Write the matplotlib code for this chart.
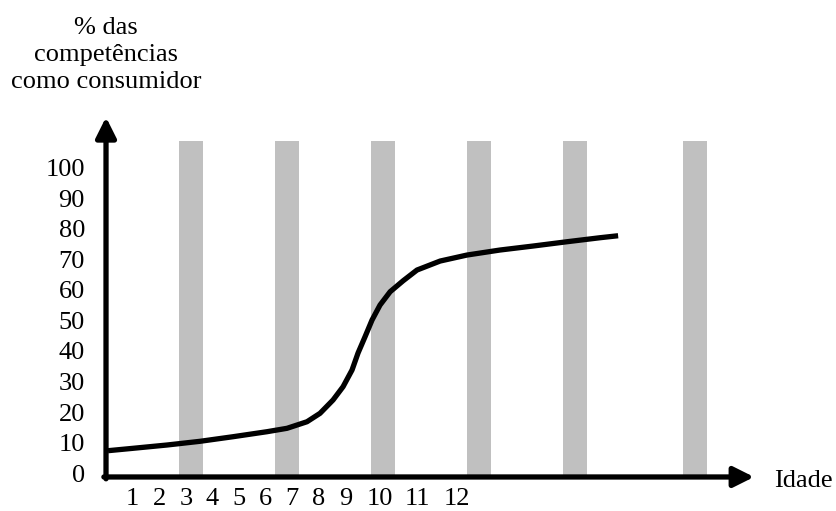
import matplotlib
matplotlib.use('Agg')
import matplotlib.pyplot as plt
from matplotlib.patches import FancyArrowPatch

plt.rcParams['font.family'] = ['Liberation Serif', 'DejaVu Serif']

# curve (position on age axis, % of skills)
curve_x = [0.075, 1.015, 2.293, 3.534, 4.774, 6.053, 6.805, 7.556, 8.045, 8.534,
           8.910, 9.248, 9.474, 9.737, 10.0, 10.30, 10.68, 11.17, 11.69, 12.56,
           13.57, 14.81, 16.05, 17.33, 18.57, 19.25]
curve_y = [7.29, 8.07, 9.15, 10.36, 11.86, 13.50, 14.61, 16.76, 19.51, 23.86,
           28.20, 33.66, 39.22, 44.54, 50.0, 54.90, 59.25, 62.84, 66.34, 69.28,
           71.24, 72.88, 74.18, 75.59, 76.90, 77.55]

# grey stripes
stripe_x = [3.2, 6.8, 10.41, 14.02, 17.63, 22.14]
stripe_top = 108.5

# tick labels
age_labels = ['1', '2', '3', '4', '5', '6', '7', '8', '9', '10', '11', '12']
age_pos = [1, 2, 3, 4, 5, 6, 7, 8, 9, 10.3, 11.7, 13.2]
pct_ticks = [0, 10, 20, 30, 40, 50, 60, 70, 80, 90, 100]

fig = plt.figure(figsize=(8.36, 5.11), dpi=100)
ax = fig.add_axes([0, 0, 1, 1])
ax.set_xlim(-3.985, 27.44)
ax.set_ylim(-12.42, 154.6)
ax.axis('off')

x0, y0 = 0, -1.3
ax.bar(stripe_x, stripe_top - y0, bottom=y0, width=0.9, color='#c0c0c0', zorder=1)

ax.plot(curve_x, curve_y, color='black', lw=3.8, solid_capstyle='butt',
        solid_joinstyle='round', zorder=3)

# axes with arrows
style = '-|>,head_length=12.2,head_width=6.1'
ax.add_patch(FancyArrowPatch((x0 - 0.08, y0), (24.36, y0), arrowstyle=style,
                             mutation_scale=1, shrinkA=0, shrinkB=0,
                             color='black', lw=3.8, zorder=4))
ax.add_patch(FancyArrowPatch((x0, y0 - 0.6), (x0, 116.3), arrowstyle=style,
                             mutation_scale=1, shrinkA=0, shrinkB=0,
                             color='black', lw=3.8, zorder=4))

fs = 19
for v in pct_ticks:
    ax.text(-0.79, v - 2.9, str(v), ha='right', va='baseline', fontsize=fs)
for p, lab in zip(age_pos, age_labels):
    ax.text(p, -10.5, lab, ha='center', va='baseline', fontsize=fs)

ax.text(25.11, -4.6, 'Idade', ha='left', va='baseline', fontsize=fs)
ax.text(0, 136.6, '% das\ncompetências\ncomo consumidor', ha='center', va='center',
        multialignment='center', fontsize=fs, linespacing=1.3)

fig.savefig('out.png', dpi=100)
